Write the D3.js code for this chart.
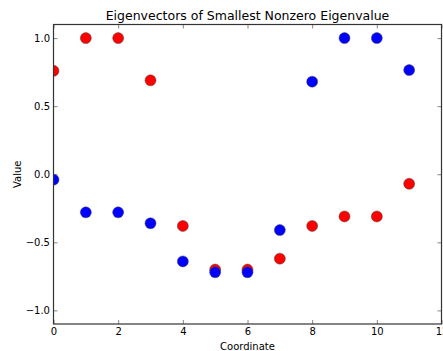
<!DOCTYPE html>
<html>
<head>
<meta charset="utf-8">
<script src="https://cdn.jsdelivr.net/npm/d3@7"></script>
<style>
  body { margin: 0; background: #fff; }
  text { font-family: "DejaVu Sans", sans-serif; fill: #000; }
</style>
</head>
<body>
<div id="chart"></div>
<script>
'use strict';

// values
var coords = [0, 1, 2, 3, 4, 5, 6, 7, 8, 9, 10, 11];
var redValues = [0.76, 1.0, 1.0, 0.69, -0.38, -0.70, -0.70, -0.62, -0.38, -0.31, -0.31, -0.07];
var blueValues = [-0.04, -0.28, -0.28, -0.36, -0.64, -0.72, -0.72, -0.41, 0.68, 1.0, 1.0, 0.765];
var xTicks = [0, 2, 4, 6, 8, 10, 12];
var yTicks = [-1.0, -0.5, 0.0, 0.5, 1.0];

var width = 443, height = 351;
var margin = {top: 24.5, right: 1.5, bottom: 27, left: 53.5};
var innerW = width - margin.left - margin.right;
var innerH = height - margin.top - margin.bottom;

var svg = d3.select('#chart').append('svg')
  .attr('width', width).attr('height', height);

var x = d3.scaleLinear().domain([0, 12]).range([0, innerW]);
var y = d3.scaleLinear().domain([-1.1, 1.1]).range([innerH, 0]);

var g = svg.append('g').attr('transform', 'translate(' + margin.left + ',' + margin.top + ')');

var fmtY = function(d) { return d3.format('.1f')(d).replace('-', '\u2212'); };

// axes with inward ticks, matplotlib classic look
function styleAxis(sel) {
  sel.select('.domain').remove();
  sel.selectAll('.tick line').attr('stroke', '#333').attr('stroke-width', 0.6);
  sel.selectAll('.tick text').style('font-size', '10px').attr('fill', '#222');
}

g.append('g').attr('transform', 'translate(0,' + innerH + ')')
  .call(d3.axisBottom(x).tickValues(xTicks).tickSizeInner(-4).tickSizeOuter(0).tickPadding(4))
  .call(styleAxis);
g.append('g')
  .call(d3.axisTop(x).tickValues(xTicks).tickSizeInner(-4).tickSizeOuter(0).tickFormat(''))
  .call(styleAxis);
g.append('g')
  .call(d3.axisLeft(y).tickValues(yTicks).tickSizeInner(-4).tickSizeOuter(0).tickPadding(3.5).tickFormat(fmtY))
  .call(styleAxis);
g.append('g').attr('transform', 'translate(' + innerW + ',0)')
  .call(d3.axisRight(y).tickValues(yTicks).tickSizeInner(-4).tickSizeOuter(0).tickFormat(''))
  .call(styleAxis);

// clip points to the frame
svg.append('clipPath').attr('id', 'clip')
  .append('rect').attr('width', innerW).attr('height', innerH);

var plot = g.append('g').attr('clip-path', 'url(#clip)');

function drawSeries(values, color) {
  plot.append('g').selectAll('circle')
    .data(values)
    .enter()
    .append('circle')
    .attr('cx', function(d, i) { return x(coords[i]); })
    .attr('cy', function(d) { return y(d); })
    .attr('r', 5.5)
    .attr('fill', color)
    .attr('stroke', '#444')
    .attr('stroke-width', 0.5);
}
drawSeries(redValues, '#ff0000');
drawSeries(blueValues, '#0000ff');

// frame
g.append('rect').attr('width', innerW).attr('height', innerH)
  .attr('fill', 'none').attr('stroke', '#333').attr('stroke-width', 1.2);

// labels
svg.append('text').attr('x', margin.left + innerW / 2).attr('y', 20)
  .attr('text-anchor', 'middle').style('font-size', '12.5px')
  .text('Eigenvectors of Smallest Nonzero Eigenvalue');
svg.append('text').attr('x', margin.left + innerW / 2).attr('y', 350)
  .attr('text-anchor', 'middle').style('font-size', '10px')
  .text('Coordinate');
svg.append('text').attr('transform', 'translate(20.5,' + (margin.top + innerH / 2) + ') rotate(-90)')
  .attr('text-anchor', 'middle').style('font-size', '10px')
  .text('Value');
</script>
</body>
</html>
